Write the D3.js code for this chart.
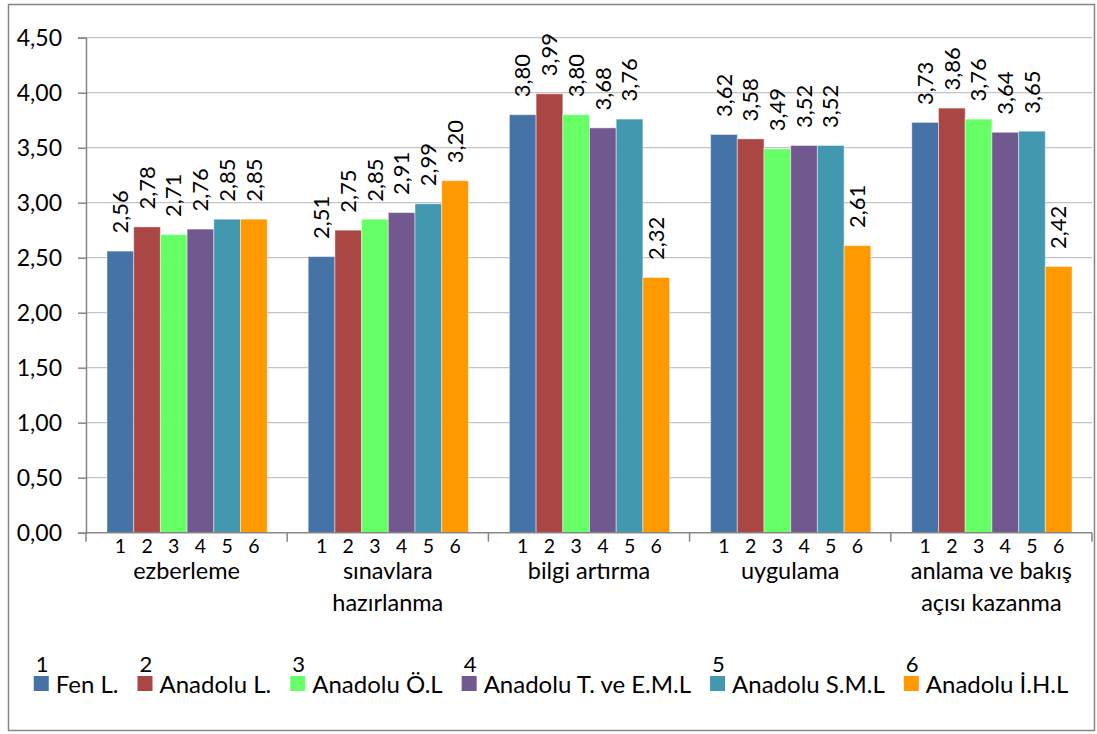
<!DOCTYPE html>
<html>
<head>
<meta charset="utf-8">
<script src="https://cdn.jsdelivr.net/npm/d3@7/dist/d3.min.js"></script>
<style>
  html, body { margin: 0; padding: 0; background: #fff; }
  svg { display: block; }
  text { font-family: Lato, "Open Sans", sans-serif; fill: #000; }
</style>
</head>
<body>
<svg id="chart" width="1097" height="734"></svg>
<script>
// Categories (x groups)
const categories = [
  "ezberleme",
  "sınavlara hazırlanma",
  "bilgi artırma",
  "uygulama",
  "anlama ve bakış açısı kazanma"
];

// Series: school types and their index numbers
const seriesNames = ["Fen L.", "Anadolu L.", "Anadolu Ö.L", "Anadolu T. ve E.M.L", "Anadolu S.M.L", "Anadolu İ.H.L"];
const seriesNumbers = ["1", "2", "3", "4", "5", "6"];
const seriesColors = ["#4572A7", "#AA4643", "#66FF66", "#71588F", "#4198AF", "#FF9900"];

// Mean scores per category, one array per series
const fenL        = [2.56, 2.51, 3.80, 3.62, 3.73];
const anadoluL    = [2.78, 2.75, 3.99, 3.58, 3.86];
const anadoluOL   = [2.71, 2.85, 3.80, 3.49, 3.76];
const anadoluTEML = [2.76, 2.91, 3.68, 3.52, 3.64];
const anadoluSML  = [2.85, 2.99, 3.76, 3.52, 3.65];
const anadoluIHL  = [2.85, 3.20, 2.32, 2.61, 2.42];

// Y axis ticks
const yTicks = [0, 0.5, 1.0, 1.5, 2.0, 2.5, 3.0, 3.5, 4.0, 4.5];

const seriesValues = [fenL, anadoluL, anadoluOL, anadoluTEML, anadoluSML, anadoluIHL];

const svg = d3.select("#chart");

// Outer chart frame
svg.append("rect")
  .attr("x", 8.5).attr("y", 4.5)
  .attr("width", 1086).attr("height", 726)
  .attr("fill", "#fff")
  .attr("stroke", "#868686").attr("stroke-width", 1.5);

const plot = { left: 86, right: 1092, top: 37.7, bottom: 532.7 };

const fmt = v => d3.format(".2f")(v).replace(".", ",");

const y = d3.scaleLinear().domain([0, 4.5]).range([plot.bottom, plot.top]);
const x0 = d3.scaleBand().domain(categories).range([plot.left, plot.right]);
const x1 = d3.scaleBand().domain(seriesNumbers).range([21, x0.bandwidth() - 20]);

// Gridlines
svg.append("g").selectAll("line")
  .data(yTicks.filter(t => t > 0))
  .join("line")
  .attr("x1", plot.left).attr("x2", plot.right)
  .attr("y1", d => y(d)).attr("y2", d => y(d))
  .attr("stroke", "#c4c4c4").attr("stroke-width", 1.2);

// Y axis
const yAxis = d3.axisLeft(y).tickValues(yTicks).tickSize(8).tickPadding(16).tickFormat(fmt);
const gy = svg.append("g").attr("transform", `translate(${plot.left},0)`).call(yAxis);
gy.select(".domain").attr("stroke", "#868686").attr("stroke-width", 1.5);
gy.selectAll(".tick line").attr("stroke", "#868686").attr("stroke-width", 1.5);
gy.selectAll(".tick text")
  .attr("font-size", 23).attr("font-family", "Lato").attr("fill", "#000")
  .attr("dy", "0.33em");

// Bars
const groups = svg.append("g").selectAll("g")
  .data(categories)
  .join("g")
  .attr("transform", d => `translate(${x0(d)},0)`);

groups.selectAll("rect")
  .data((c, ci) => seriesValues.map((vals, si) => ({ si, v: vals[ci] })))
  .join("rect")
  .attr("x", d => x1(seriesNumbers[d.si]))
  .attr("y", d => y(d.v))
  .attr("width", x1.bandwidth())
  .attr("height", d => y(0) - y(d.v))
  .attr("fill", d => seriesColors[d.si])
  .attr("stroke", "rgba(255,255,255,0.45)").attr("stroke-width", 1);

// Value labels, rotated
groups.selectAll("text.val")
  .data((c, ci) => seriesValues.map((vals, si) => ({ si, v: vals[ci] })))
  .join("text")
  .attr("class", "val")
  .attr("transform", d => `translate(${x1(seriesNumbers[d.si]) + x1.bandwidth() / 2},${y(d.v) - 17.5}) rotate(-90)`)
  .attr("dy", "0.35em")
  .attr("font-size", 22)
  .text(d => fmt(d.v));

// X axis line and group dividers
svg.append("line")
  .attr("x1", plot.left).attr("x2", plot.right)
  .attr("y1", plot.bottom).attr("y2", plot.bottom)
  .attr("stroke", "#868686").attr("stroke-width", 1.5);
const dividers = categories.map(c => x0(c)).concat([plot.right]);
svg.append("g").selectAll("line")
  .data(dividers)
  .join("line")
  .attr("x1", d => d).attr("x2", d => d)
  .attr("y1", plot.bottom).attr("y2", plot.bottom + 9)
  .attr("stroke", "#868686").attr("stroke-width", 1.5);

// Series number under each bar
groups.selectAll("text.num")
  .data(seriesNumbers)
  .join("text")
  .attr("class", "num")
  .attr("x", d => x1(d) + x1.bandwidth() / 2)
  .attr("y", 553)
  .attr("text-anchor", "middle")
  .attr("font-size", 19.5)
  .text(d => d);

// Category labels, wrapped to the group width
groups.each(function (c) {
  const g = d3.select(this);
  const maxW = x0.bandwidth();
  const t = g.append("text")
    .attr("class", "cat")
    .attr("text-anchor", "middle")
    .attr("font-size", 23.5)
    .attr("x", x0.bandwidth() / 2);
  const words = c.split(" ");
  let lines = [], line = [];
  const probe = g.append("text").attr("font-size", 23.5);
  words.forEach(w => {
    const test = line.concat([w]).join(" ");
    probe.text(test);
    if (probe.node().getComputedTextLength() > maxW && line.length) {
      lines.push(line.join(" "));
      line = [w];
    } else {
      line.push(w);
    }
  });
  lines.push(line.join(" "));
  probe.remove();
  lines.forEach((l, i) => {
    t.append("tspan").attr("x", x0.bandwidth() / 2).attr("y", 579 + i * 32).text(l);
  });
});

// Legend: flow layout, centred
const legend = svg.append("g");
const items = legend.selectAll("g")
  .data(seriesNames.map((n, i) => ({ n, i })))
  .join("g");
items.append("rect")
  .attr("x", 0).attr("y", 676)
  .attr("width", 15).attr("height", 15)
  .attr("fill", d => seriesColors[d.i]);
items.append("text")
  .attr("x", 2).attr("y", 672)
  .attr("font-size", 22)
  .text(d => seriesNumbers[d.i]);
items.append("text")
  .attr("x", 22).attr("y", 693)
  .attr("font-size", 24)
  .text(d => d.n);

let cursor = 0;
const offsets = [];
items.each(function (d) {
  const tw = d3.select(this).selectAll("text").nodes()[1].getComputedTextLength();
  offsets.push(cursor);
  cursor += 22 + tw + 19;
});
const totalW = cursor - 19;
const startX = (8 + 1094) / 2 - totalW / 2;
items.attr("transform", (d, i) => `translate(${startX + offsets[i]},0)`);
</script>
</body>
</html>
